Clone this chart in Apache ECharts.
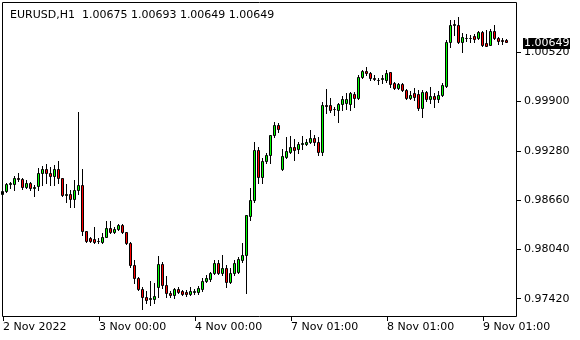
<!DOCTYPE html>
<html><head><meta charset="utf-8">
<script src="https://cdn.jsdelivr.net/npm/echarts@6/dist/echarts.min.js"></script>
<style>html,body{margin:0;padding:0;background:#fff}#c{width:580px;height:340px}</style>
</head><body><div id="c"></div>
<script>
const symbolTitle = "EURUSD,H1  1.00675 1.00693 1.00649 1.00649";
const lastPrice = 1.00649;
const priceTicks = [0.97420, 0.98040, 0.98660, 0.99280, 0.99900, 1.00520];
const timeTickIndex = [0, 24, 48, 72, 96, 120];
const timeTickText = ["2 Nov 2022", "3 Nov 00:00", "4 Nov 00:00", "7 Nov 01:00", "8 Nov 01:00", "9 Nov 01:00"];

const open = [0.98737,0.98775,0.98863,0.98863,0.98939,0.98926,0.98826,0.98876,0.98813,0.98838,
0.99002,0.99052,0.99002,0.98964,0.99052,0.98939,0.98725,0.98737,0.98674,0.98788,
0.98851,0.98272,0.98184,0.98171,0.98146,0.98134,0.98197,0.98310,0.98259,0.98297,
0.98348,0.98259,0.98121,0.97844,0.97681,0.97542,0.97442,0.97417,0.97417,0.97568,
0.97857,0.97593,0.97492,0.97467,0.97542,0.97517,0.97505,0.97480,0.97505,0.97505,
0.97542,0.97643,0.97668,0.97744,0.97870,0.97744,0.97807,0.97630,0.97744,0.97756,
0.97907,0.97970,0.98461,0.98662,0.99291,0.98951,0.99153,0.99228,0.99480,0.99605,
0.99052,0.99203,0.99266,0.99329,0.99304,0.99366,0.99366,0.99392,0.99442,0.99392,
0.99266,0.99857,0.99857,0.99807,0.99794,0.99870,0.99882,0.99870,0.99995,0.99945,
1.00209,1.00285,1.00260,1.00197,1.00172,1.00184,1.00172,1.00272,1.00134,1.00071,
1.00121,1.00046,0.99945,1.00008,0.99995,0.99819,1.00021,0.99933,0.99970,0.99933,
0.99983,1.00096,1.00650,1.00863,1.00863,1.00650,1.00700,1.00700,1.00725,1.00700,
1.00775,1.00637,1.00612,1.00788,1.00700,1.00675,1.00675];
const close = [0.98775,0.98863,0.98876,0.98939,0.98926,0.98826,0.98876,0.98813,0.98826,0.99002,
0.99052,0.99002,0.98964,0.99052,0.98939,0.98725,0.98737,0.98674,0.98788,0.98851,
0.98272,0.98146,0.98146,0.98134,0.98146,0.98197,0.98310,0.98259,0.98297,0.98348,
0.98259,0.98121,0.97844,0.97681,0.97542,0.97442,0.97404,0.97429,0.97454,0.97857,
0.97593,0.97492,0.97467,0.97542,0.97505,0.97480,0.97480,0.97517,0.97517,0.97555,
0.97643,0.97681,0.97744,0.97870,0.97744,0.97807,0.97630,0.97744,0.97870,0.97920,
0.97970,0.98473,0.98662,0.99291,0.98951,0.99153,0.99228,0.99480,0.99605,0.99555,
0.99216,0.99278,0.99329,0.99291,0.99366,0.99379,0.99392,0.99442,0.99392,0.99266,
0.99857,0.99845,0.99794,0.99807,0.99870,0.99933,0.99933,1.00008,0.99945,1.00209,
1.00285,1.00260,1.00197,1.00184,1.00172,1.00197,1.00260,1.00121,1.00071,1.00121,
1.00046,0.99945,0.99983,0.99958,0.99819,1.00021,0.99933,0.99970,0.99933,0.99983,
1.00109,1.00650,1.00863,1.00876,1.00650,1.00713,1.00700,1.00700,1.00687,1.00775,
1.00612,1.00599,1.00788,1.00700,1.00662,1.00662,1.00649];
const low = [0.98725,0.98763,0.98813,0.98788,0.98901,0.98800,0.98813,0.98788,0.98712,0.98788,
0.98851,0.98876,0.98851,0.98851,0.98876,0.98712,0.98637,0.98574,0.98574,0.98737,
0.98222,0.98134,0.98134,0.98121,0.98121,0.98121,0.98197,0.98247,0.98247,0.98285,
0.98247,0.98109,0.97819,0.97618,0.97530,0.97291,0.97366,0.97341,0.97366,0.97442,
0.97555,0.97442,0.97442,0.97429,0.97492,0.97467,0.97454,0.97467,0.97480,0.97480,
0.97517,0.97630,0.97643,0.97731,0.97731,0.97719,0.97568,0.97618,0.97719,0.97744,
0.97882,0.97492,0.98410,0.98637,0.98876,0.98876,0.99128,0.99128,0.99455,0.99517,
0.99039,0.99190,0.99253,0.99165,0.99253,0.99304,0.99354,0.99379,0.99354,0.99228,
0.99228,0.99756,0.99769,0.99731,0.99643,0.99794,0.99807,0.99794,0.99832,0.99933,
1.00197,1.00235,1.00172,1.00172,1.00121,1.00134,1.00146,1.00083,1.00058,1.00058,
1.00033,0.99933,0.99933,0.99920,0.99794,0.99706,0.99907,0.99882,0.99832,0.99895,
0.99970,1.00083,1.00587,1.00738,1.00637,1.00524,1.00662,1.00650,1.00650,1.00687,
1.00599,1.00599,1.00612,1.00687,1.00624,1.00624,1.00649];
const high = [0.98788,0.98876,0.98888,0.98964,0.99002,0.98939,0.98914,0.98888,0.98851,0.99065,
0.99090,0.99115,0.99077,0.99102,0.99153,0.98939,0.98863,0.98788,0.98914,0.99769,
0.99052,0.98272,0.98197,0.98322,0.98184,0.98247,0.98398,0.98398,0.98322,0.98360,
0.98360,0.98259,0.98134,0.97907,0.97693,0.97568,0.97517,0.97643,0.97618,0.97958,
0.97882,0.97706,0.97517,0.97555,0.97568,0.97530,0.97530,0.97568,0.97542,0.97580,
0.97681,0.97719,0.97756,0.97907,0.97907,0.97970,0.97844,0.97807,0.97907,0.97945,
0.98121,0.98473,0.98813,0.99392,0.99329,0.99190,0.99253,0.99480,0.99643,0.99631,
0.99304,0.99455,0.99467,0.99429,0.99392,0.99467,0.99429,0.99543,0.99480,0.99455,
0.99895,1.00058,0.99945,0.99832,0.99882,0.99970,1.00008,1.00021,1.00021,1.00235,
1.00297,1.00335,1.00272,1.00235,1.00197,1.00235,1.00297,1.00272,1.00146,1.00134,
1.00134,1.00058,1.00033,1.00071,1.00046,1.00046,1.00033,1.00083,1.00008,1.00033,
1.00134,1.00675,1.00926,1.00926,1.00964,1.00763,1.00750,1.00738,1.00750,1.00788,
1.00788,1.00801,1.00813,1.00863,1.00713,1.00700,1.00693];

const barCount = open.length;
const slotCount = barCount + 2;
const categories = Array.from({length: slotCount}, (_, i) => String(i));
const rows = open.map((o, i) => [i, o, close[i], low[i], high[i]]);
const tickText = {};
timeTickIndex.forEach((idx, k) => { tickText[idx] = timeTickText[k]; });
const isTick = (idx) => tickText[idx] !== undefined;

const UP = '#00ff00', DOWN = '#ff0000', EDGE = '#000000';
function renderCandle(params, api) {
  const i = api.value(0);
  const o = api.value(1), c = api.value(2), l = api.value(3), h = api.value(4);
  const px = api.coord([i, o])[0];
  const cx = Math.round(px) - 0.5;
  const yO = Math.round(api.coord([i, o])[1]);
  const yC = Math.round(api.coord([i, c])[1]);
  const yL = Math.round(api.coord([i, l])[1]);
  const yH = Math.round(api.coord([i, h])[1]);
  const top = Math.min(yO, yC), bot = Math.max(yO, yC);
  const fill = c > o ? UP : (c < o ? DOWN : EDGE);
  return {
    type: 'group',
    children: [
      {type: 'line', shape: {x1: cx, y1: yH, x2: cx, y2: yL + 1}, style: {stroke: EDGE, lineWidth: 1}},
      {type: 'rect', shape: {x: cx - 1, y: top + 0.5, width: 2, height: bot - top}, style: {fill: fill, stroke: EDGE, lineWidth: 1}}
    ]
  };
}

const FONT = "DejaVu Sans";
const chart = echarts.init(document.getElementById('c'), null, {renderer: 'canvas'});
chart.setOption({
  animation: false,
  backgroundColor: '#ffffff',
  title: {
    text: symbolTitle, left: 5, top: 5,
    textStyle: {fontFamily: FONT, fontSize: 11, fontWeight: 'normal', color: '#000'}
  },
  grid: {left: 1, top: 2, width: 516, height: 314},
  xAxis: {
    type: 'category', data: categories, boundaryGap: true,
    axisLine: {show: false},
    axisTick: {show: true, alignWithLabel: true, interval: (i) => isTick(i), length: 5, lineStyle: {color: '#000'}},
    axisLabel: {show: true, interval: (i) => isTick(i), formatter: (v, i) => tickText[i] || '',
      align: 'left', margin: 6, color: '#000', fontFamily: FONT, fontSize: 11},
    splitLine: {show: false}
  },
  yAxis: {
    type: 'value', position: 'right', min: 0.97203, max: 1.01153, scale: true,
    axisLine: {show: false},
    axisTick: {show: true, customValues: priceTicks, length: 4, inside: false, lineStyle: {color: '#000'}},
    axisLabel: {show: true, customValues: priceTicks, formatter: (v) => v.toFixed(5), margin: 7,
      color: '#000', fontFamily: FONT, fontSize: 11},
    splitLine: {show: false}
  },
  series: [{
    type: 'custom', data: rows, renderItem: renderCandle,
    encode: {x: 0, y: [1, 2, 3, 4]}, clip: false
  }]
});

// frame and current-price tag, positioned through the chart's own scales
const py = chart.convertToPixel({yAxisIndex: 0}, lastPrice);
chart.setOption({
  graphic: [
    {type: 'rect', z: 100, silent: true,
     shape: {x: 2.5, y: 2.5, width: 514, height: 314},
     style: {fill: 'none', stroke: '#000', lineWidth: 1}},
    {type: 'rect', z: 101, silent: true,
     shape: {x: 523, y: Math.round(py) - 4, width: 47, height: 11},
     style: {fill: '#000'}},
    {type: 'text', z: 102, silent: true,
     x: 524, y: Math.round(py) + 1.5,
     style: {text: lastPrice.toFixed(5), fill: '#fff', font: '11px "DejaVu Sans"', textVerticalAlign: 'middle', verticalAlign: 'middle'}}
  ]
});
</script></body></html>
